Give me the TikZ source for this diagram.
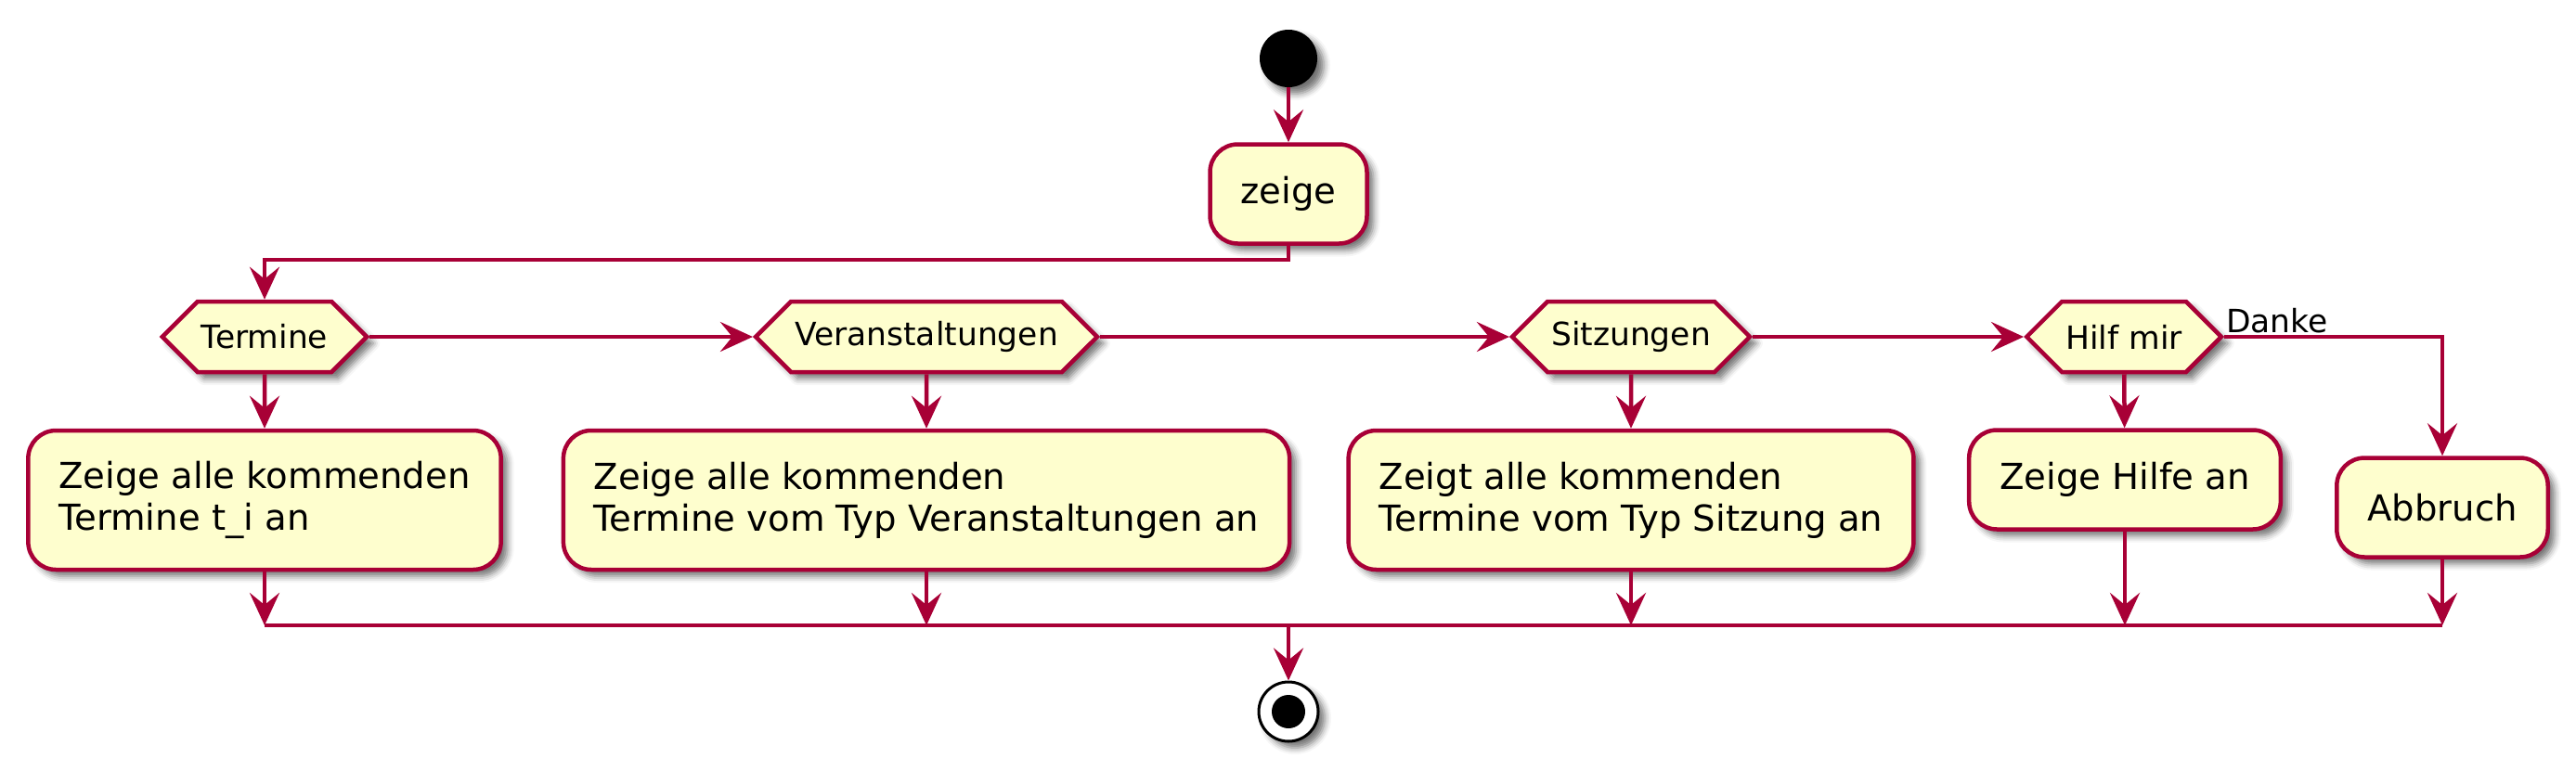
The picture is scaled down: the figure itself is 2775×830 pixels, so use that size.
\documentclass[tikz,border=0pt]{standalone}
\usepackage{fontspec}
\setmainfont{DejaVu Sans}
\usetikzlibrary{arrows.meta,shapes.symbols,shadows.blur}
\definecolor{umlred}{HTML}{A80036}
\definecolor{umlfill}{HTML}{FEFECE}
\begin{document}
\begin{tikzpicture}[x=1pt,y=1pt]
\tikzstyle{umlshadow}=[blur shadow={shadow xshift=7pt,shadow yshift=-7pt,shadow blur radius=7pt,shadow opacity=55}]
\tikzstyle{activity}=[draw=umlred,fill=umlfill,line width=4.5pt,rounded corners=30pt,inner xsep=33pt,inner ysep=4pt,align=left,font=\fontsize{38.6}{45}\selectfont,umlshadow]
\tikzstyle{choice}=[draw=umlred,fill=umlfill,line width=4.5pt,shape=signal,signal to=east and west,signal pointer angle=90,minimum height=76pt,inner xsep=4pt,font=\fontsize{34.5}{40}\selectfont,umlshadow]
\tikzstyle{flow}=[draw=umlred,line width=4.5pt,-{Stealth[length=35pt,width=32pt,inset=13pt]}]
\useasboundingbox (0,0) rectangle (2775,-830);
% start and first activity
\node[circle,fill=black,minimum size=62pt,inner sep=0pt,umlshadow] (start) at (1388,-63) {};
\node[activity,minimum height=107pt] (zeige) at (1388,-209) {zeige};
% choices
\node[choice] (termine) at (285,-363) {Termine};
\node[choice] (veranst) at (998,-363) {Veranstaltungen};
\node[choice] (sitzung) at (1757,-363) {Sitzungen};
\node[choice] (hilf) at (2288,-363) {Hilf mir};
% activities
\node[activity,minimum height=150pt] (showtermine) at (285,-539) {Zeige alle kommenden\\Termine t\_i an};
\node[activity,minimum height=150pt] (showveranst) at (998,-539) {Zeige alle kommenden\\Termine vom Typ Veranstaltungen an};
\node[activity,minimum height=150pt] (showsitzung) at (1757,-539) {Zeigt alle kommenden\\Termine vom Typ Sitzung an};
\node[activity,minimum height=107pt] (showhilfe) at (2289,-517) {Zeige Hilfe an};
\node[activity,minimum height=107pt] (abbruch) at (2631,-547) {Abbruch};
% end
\coordinate (join) at (1388,-674);
\node[circle,draw=black,line width=3pt,fill=white,minimum size=64pt,inner sep=0pt,umlshadow] (stop) at (1388,-767) {};
\node[circle,fill=black,minimum size=36pt,inner sep=0pt] (stopdot) at (stop) {};
% flows
\draw[flow] (start) -- (zeige);
\draw[flow] (zeige.south) -- ++(0,-15) -| (termine.north);
\draw[flow] (termine.east) -- (veranst.west);
\draw[flow] (veranst.east) -- (sitzung.west);
\draw[flow] (sitzung.east) -- (hilf.west);
\draw[flow] (hilf.east) node[above right,inner xsep=0pt,inner ysep=2pt,font=\fontsize{34.5}{40}\selectfont] (danke) {Danke} -| (abbruch.north);
\draw[flow] (termine) -- (showtermine);
\draw[flow] (veranst) -- (showveranst);
\draw[flow] (sitzung) -- (showsitzung);
\draw[flow] (hilf) -- (showhilfe);
\draw[flow] (showtermine) -- (showtermine |- join);
\draw[flow] (showveranst) -- (showveranst |- join);
\draw[flow] (showsitzung) -- (showsitzung |- join);
\draw[flow] (showhilfe) -- (showhilfe |- join);
\draw[flow] (abbruch) -- (abbruch |- join);
\draw[draw=umlred,line width=4.5pt] (showtermine |- join) -- (abbruch |- join);
\draw[flow] (join) -- (stop);
\end{tikzpicture}
\end{document}
